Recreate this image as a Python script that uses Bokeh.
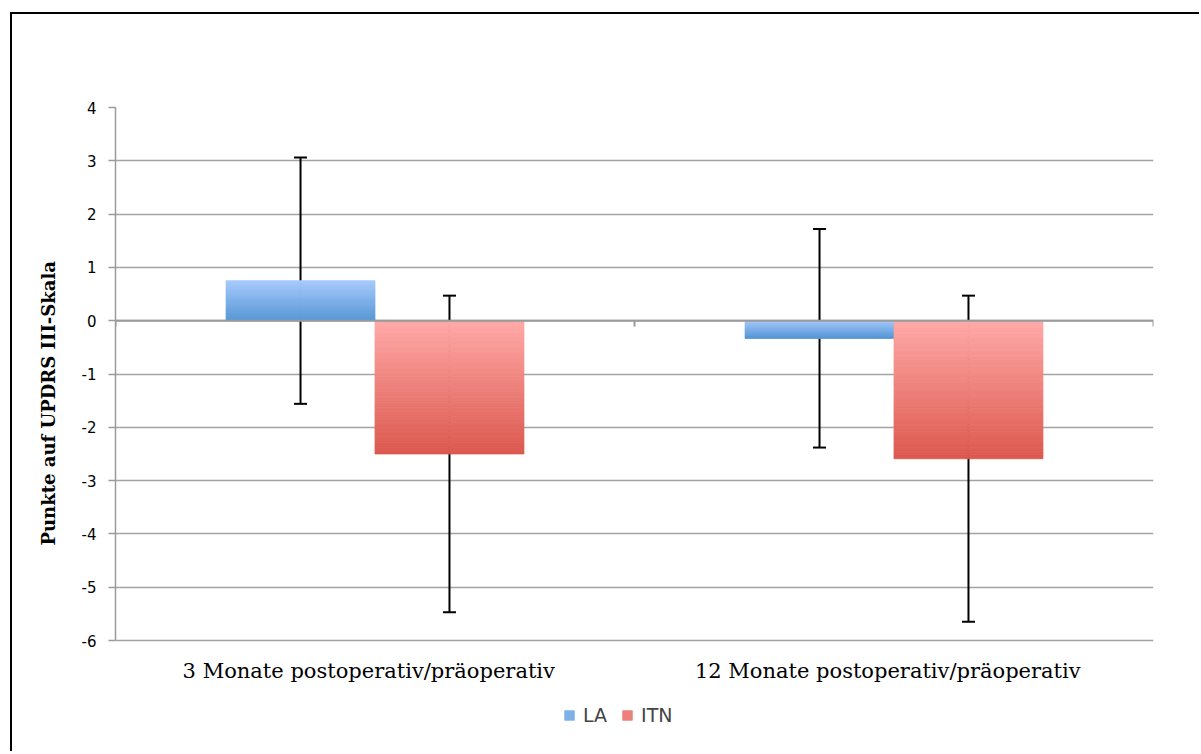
import numpy as np
from bokeh.plotting import figure
from bokeh.models import (Range1d, FixedTicker, Whisker, ColumnDataSource, Legend,
                          LegendItem, TeeHead, Span, Title)
from bokeh.core.properties import value
from bokeh.embed import file_html
from bokeh.resources import INLINE

# ---- data ----
categories = ["3 Monate postoperativ/präoperativ", "12 Monate postoperativ/präoperativ"]
series_names = ["LA", "ITN"]
la_mean = [0.75, -0.33]
la_err = [2.31, 2.05]
itn_mean = [-2.5, -2.59]
itn_err = [2.97, 3.06]
y_ticks = [-6, -5, -4, -3, -2, -1, 0, 1, 2, 3, 4]
y_tick_labels = ["-6", "-5", "-4", "-3", "-2", "-1", "0", "1", "2", "3", "4"]
y_title = "Punkte auf UPDRS III-Skala"

# ---- style / layout ----
BAR_W = 0.287
OFFS = [-0.1435, 0.1435]
GRAD = {
    "LA": ((168, 203, 252), (88, 152, 215)),
    "ITN": ((255, 170, 168), (220, 88, 78)),
}
NSL = 60
PX_PER_UNIT = 53.3          # vertical scale of the value axis
FRAME_TOP = 107
FRAME_H = 640               # frame extends below the axis to hold labels + legend
Y_TOP = max(y_ticks)
Y_BOTTOM = Y_TOP - FRAME_H / PX_PER_UNIT
LABEL_Y = -6.57             # category label row (below the -6 gridline)
TITLE_BOTTOM_PX = 545       # where the rotated y title ends (page px)

p = figure(width=1199, height=FRAME_TOP + FRAME_H + 4, output_backend="svg",
           toolbar_location=None,
           x_range=Range1d(0, len(categories)), y_range=Range1d(Y_BOTTOM, Y_TOP),
           frame_width=1038, frame_height=FRAME_H, x_axis_location=None,
           min_border_left=115, min_border_top=FRAME_TOP, min_border_right=46,
           min_border_bottom=4)
p.outline_line_color = None
p.background_fill_color = "white"
p.border_fill_color = None
p.styles = {"background": "linear-gradient(black, black) 10px 12px / 2px 100% no-repeat, "
                          "linear-gradient(black, black) 10px 12px / 100% 2px no-repeat, white"}

centers = [i + 0.5 for i in range(len(categories))]


def grad_bars(means, name, off):
    top_c, bot_c = GRAD[name]
    xs, bots, tops, cols = [], [], [], []
    for c, m in zip(centers, means):
        lo, hi = min(0, m), max(0, m)
        edges = np.linspace(hi, lo, NSL + 1)
        for k in range(NSL):
            t = (k + 0.5) / NSL
            col = tuple(int(round(a + (b - a) * t)) for a, b in zip(top_c, bot_c))
            xs.append(c + off)
            tops.append(edges[k])
            bots.append(edges[k + 1])
            cols.append("#%02x%02x%02x" % col)
    src = ColumnDataSource(dict(x=xs, top=tops, bottom=bots, color=cols))
    return p.vbar(x="x", top="top", bottom="bottom", width=BAR_W, source=src,
                  fill_color="color", line_color="color", line_width=0.8)


r_la = grad_bars(la_mean, "LA", OFFS[0])
r_itn = grad_bars(itn_mean, "ITN", OFFS[1])

# zero line + small ticks at category boundaries
p.add_layout(Span(location=0, dimension="width", line_color="#9a9a9a", line_width=2))
bounds = list(range(len(categories) + 1))
p.segment(x0=bounds, x1=bounds, y0=[0] * len(bounds), y1=[-0.11] * len(bounds),
          line_color="#9a9a9a", line_width=2)

# error bars
for means, errs, off in [(la_mean, la_err, OFFS[0]), (itn_mean, itn_err, OFFS[1])]:
    src = ColumnDataSource(dict(x=[c + off for c in centers],
                                lower=[m - e for m, e in zip(means, errs)],
                                upper=[m + e for m, e in zip(means, errs)]))
    w = Whisker(base="x", lower="lower", upper="upper", source=src, dimension="height",
                line_color="black", line_width=2,
                upper_head=TeeHead(size=13, line_color="black", line_width=2),
                lower_head=TeeHead(size=13, line_color="black", line_width=2))
    p.add_layout(w)

# category labels
p.text(x=[c - 0.012 for c in centers], y=[LABEL_Y] * len(centers), text=categories,
       text_font=value("DejaVu Serif"), text_font_size="21px", text_color="black",
       text_align="center", text_baseline="middle")

# y axis
p.yaxis.bounds = (min(y_ticks), max(y_ticks))
p.yaxis.ticker = FixedTicker(ticks=y_ticks)
p.yaxis.major_label_overrides = {t: lab for t, lab in zip(y_ticks, y_tick_labels)}
p.yaxis.axis_line_color = "#9a9a9a"
p.yaxis.axis_line_width = 1.5
p.yaxis.major_tick_line_color = "#9a9a9a"
p.yaxis.major_tick_line_width = 1.5
p.yaxis.major_tick_out = 7
p.yaxis.major_tick_in = 0
p.yaxis.minor_tick_line_color = None
p.yaxis.major_label_text_font = "DejaVu Sans"
p.yaxis.major_label_text_font_size = "15px"
p.yaxis.major_label_text_color = "black"
p.yaxis.major_label_standoff = 12

p.add_layout(Title(text=y_title, align="left",
                   offset=FRAME_TOP + FRAME_H - TITLE_BOTTOM_PX, standoff=40,
                   text_font="DejaVu Serif", text_font_style="bold",
                   text_font_size="18px", text_color="black"), "left")

p.xgrid.grid_line_color = None
p.ygrid.ticker = FixedTicker(ticks=y_ticks)
p.ygrid.grid_line_color = "#a3a3a3"
p.ygrid.grid_line_width = 1.5

legend = Legend(items=[LegendItem(label=series_names[0], renderers=[r_la], index=NSL // 2),
                       LegendItem(label=series_names[1], renderers=[r_itn], index=NSL // 2)],
                orientation="horizontal", location=(448, FRAME_TOP + FRAME_H - 726),
                glyph_width=12, glyph_height=12, spacing=14, label_standoff=8,
                label_height=20, label_text_font="DejaVu Sans", label_text_font_size="19px",
                border_line_color=None, background_fill_alpha=0, margin=0, padding=0)
p.add_layout(legend, "center")

open("out.html", "w").write(file_html(p, INLINE))
